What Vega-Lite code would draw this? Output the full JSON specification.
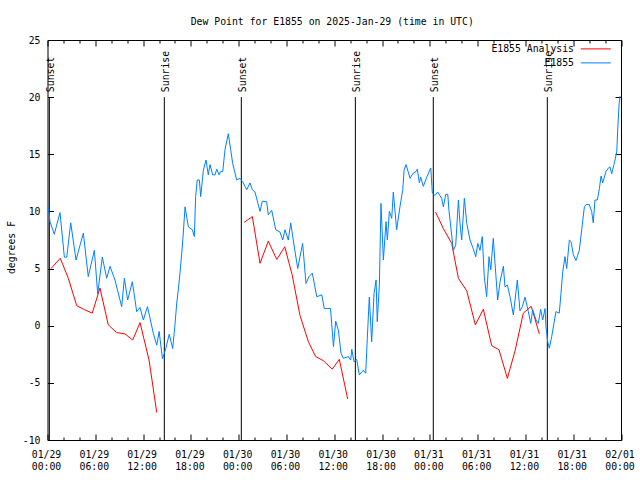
{
  "$schema": "https://vega.github.io/schema/vega-lite/v6.json",
  "width": 573.5,
  "height": 400,
  "autosize": {"type": "none"},
  "padding": {"left": 47.5, "top": 40, "right": 19, "bottom": 40},
  "title": {"text": "Dew Point for E1855 on 2025-Jan-29 (time in UTC)", "font": "DejaVu Sans Mono", "fontSize": 9.8, "fontWeight": "normal", "color": "black", "anchor": "middle", "baseline": "middle", "offset": 3.5, "dx": -2},
  "config": {
    "view": {"stroke": "black", "strokeWidth": 1},
    "font": "DejaVu Sans Mono",
    "axis": {"labelFont": "DejaVu Sans Mono", "labelFontSize": 9.8, "labelColor": "black", "tickColor": "black", "tickWidth": 1, "domain": false, "grid": false, "labelFlush": false, "labelOverlap": false, "titleFont": "DejaVu Sans Mono", "titleFontSize": 9.8, "titleFontWeight": "normal", "titleColor": "black"}
  },
  "datasets": {
    "sun": [
      {"t": "2025-01-29T00:14:00Z", "label": "Sunset"},
      {"t": "2025-01-29T14:40:00Z", "label": "Sunrise"},
      {"t": "2025-01-30T00:20:00Z", "label": "Sunset"},
      {"t": "2025-01-30T14:39:00Z", "label": "Sunrise"},
      {"t": "2025-01-31T00:26:00Z", "label": "Sunset"},
      {"t": "2025-01-31T14:45:00Z", "label": "Sunrise"}
    ],
    "obs": [
      {"t": "2025-01-29T00:26:00Z", "s": "E1855 Analysis", "g": "a1", "v": 5.0},
      {"t": "2025-01-29T01:36:00Z", "s": "E1855 Analysis", "g": "a1", "v": 5.9},
      {"t": "2025-01-29T02:37:00Z", "s": "E1855 Analysis", "g": "a1", "v": 4.15},
      {"t": "2025-01-29T03:40:00Z", "s": "E1855 Analysis", "g": "a1", "v": 1.75},
      {"t": "2025-01-29T04:39:00Z", "s": "E1855 Analysis", "g": "a1", "v": 1.4},
      {"t": "2025-01-29T05:37:00Z", "s": "E1855 Analysis", "g": "a1", "v": 1.1},
      {"t": "2025-01-29T06:35:00Z", "s": "E1855 Analysis", "g": "a1", "v": 3.3},
      {"t": "2025-01-29T07:38:00Z", "s": "E1855 Analysis", "g": "a1", "v": 0.07},
      {"t": "2025-01-29T08:41:00Z", "s": "E1855 Analysis", "g": "a1", "v": -0.6},
      {"t": "2025-01-29T09:44:00Z", "s": "E1855 Analysis", "g": "a1", "v": -0.72},
      {"t": "2025-01-29T10:42:00Z", "s": "E1855 Analysis", "g": "a1", "v": -1.25},
      {"t": "2025-01-29T11:37:00Z", "s": "E1855 Analysis", "g": "a1", "v": 0.27},
      {"t": "2025-01-29T12:45:00Z", "s": "E1855 Analysis", "g": "a1", "v": -3.0},
      {"t": "2025-01-29T13:43:00Z", "s": "E1855 Analysis", "g": "a1", "v": -7.6},
      {"t": "2025-01-30T00:42:00Z", "s": "E1855 Analysis", "g": "a2", "v": 9.05},
      {"t": "2025-01-30T01:43:00Z", "s": "E1855 Analysis", "g": "a2", "v": 9.55},
      {"t": "2025-01-30T02:41:00Z", "s": "E1855 Analysis", "g": "a2", "v": 5.46},
      {"t": "2025-01-30T03:43:00Z", "s": "E1855 Analysis", "g": "a2", "v": 7.4},
      {"t": "2025-01-30T04:47:00Z", "s": "E1855 Analysis", "g": "a2", "v": 5.8},
      {"t": "2025-01-30T05:47:00Z", "s": "E1855 Analysis", "g": "a2", "v": 6.9},
      {"t": "2025-01-30T06:42:00Z", "s": "E1855 Analysis", "g": "a2", "v": 4.5},
      {"t": "2025-01-30T07:42:00Z", "s": "E1855 Analysis", "g": "a2", "v": 0.9},
      {"t": "2025-01-30T08:45:00Z", "s": "E1855 Analysis", "g": "a2", "v": -1.4},
      {"t": "2025-01-30T09:40:00Z", "s": "E1855 Analysis", "g": "a2", "v": -2.7},
      {"t": "2025-01-30T10:38:00Z", "s": "E1855 Analysis", "g": "a2", "v": -3.06},
      {"t": "2025-01-30T11:45:00Z", "s": "E1855 Analysis", "g": "a2", "v": -3.8},
      {"t": "2025-01-30T12:38:00Z", "s": "E1855 Analysis", "g": "a2", "v": -2.94},
      {"t": "2025-01-30T13:41:00Z", "s": "E1855 Analysis", "g": "a2", "v": -6.4},
      {"t": "2025-01-31T00:43:00Z", "s": "E1855 Analysis", "g": "a3", "v": 9.95},
      {"t": "2025-01-31T01:42:00Z", "s": "E1855 Analysis", "g": "a3", "v": 8.5},
      {"t": "2025-01-31T02:45:00Z", "s": "E1855 Analysis", "g": "a3", "v": 7.2},
      {"t": "2025-01-31T03:35:00Z", "s": "E1855 Analysis", "g": "a3", "v": 4.15},
      {"t": "2025-01-31T04:38:00Z", "s": "E1855 Analysis", "g": "a3", "v": 3.05},
      {"t": "2025-01-31T05:43:00Z", "s": "E1855 Analysis", "g": "a3", "v": 0.07},
      {"t": "2025-01-31T06:43:00Z", "s": "E1855 Analysis", "g": "a3", "v": 1.44},
      {"t": "2025-01-31T07:46:00Z", "s": "E1855 Analysis", "g": "a3", "v": -1.75},
      {"t": "2025-01-31T08:41:00Z", "s": "E1855 Analysis", "g": "a3", "v": -2.1},
      {"t": "2025-01-31T09:44:00Z", "s": "E1855 Analysis", "g": "a3", "v": -4.6},
      {"t": "2025-01-31T10:42:00Z", "s": "E1855 Analysis", "g": "a3", "v": -2.2},
      {"t": "2025-01-31T11:44:00Z", "s": "E1855 Analysis", "g": "a3", "v": 1.1},
      {"t": "2025-01-31T12:44:00Z", "s": "E1855 Analysis", "g": "a3", "v": 1.7},
      {"t": "2025-01-31T13:45:00Z", "s": "E1855 Analysis", "g": "a3", "v": -0.72},
      {"t": "2025-01-29T00:06:00Z", "s": "E1855", "g": "o", "v": 10.4},
      {"t": "2025-01-29T00:19:00Z", "s": "E1855", "g": "o", "v": 9.1},
      {"t": "2025-01-29T00:51:00Z", "s": "E1855", "g": "o", "v": 8.0},
      {"t": "2025-01-29T01:34:00Z", "s": "E1855", "g": "o", "v": 9.9},
      {"t": "2025-01-29T02:07:00Z", "s": "E1855", "g": "o", "v": 6.0},
      {"t": "2025-01-29T02:25:00Z", "s": "E1855", "g": "o", "v": 6.0},
      {"t": "2025-01-29T02:55:00Z", "s": "E1855", "g": "o", "v": 9.0},
      {"t": "2025-01-29T03:35:00Z", "s": "E1855", "g": "o", "v": 5.75},
      {"t": "2025-01-29T04:30:00Z", "s": "E1855", "g": "o", "v": 8.1},
      {"t": "2025-01-29T05:07:00Z", "s": "E1855", "g": "o", "v": 4.3},
      {"t": "2025-01-29T05:53:00Z", "s": "E1855", "g": "o", "v": 6.6},
      {"t": "2025-01-29T06:18:00Z", "s": "E1855", "g": "o", "v": 2.8},
      {"t": "2025-01-29T06:53:00Z", "s": "E1855", "g": "o", "v": 6.0},
      {"t": "2025-01-29T07:26:00Z", "s": "E1855", "g": "o", "v": 4.15},
      {"t": "2025-01-29T07:51:00Z", "s": "E1855", "g": "o", "v": 5.2},
      {"t": "2025-01-29T08:28:00Z", "s": "E1855", "g": "o", "v": 4.0},
      {"t": "2025-01-29T09:19:00Z", "s": "E1855", "g": "o", "v": 1.67},
      {"t": "2025-01-29T09:39:00Z", "s": "E1855", "g": "o", "v": 4.15},
      {"t": "2025-01-29T10:04:00Z", "s": "E1855", "g": "o", "v": 2.25},
      {"t": "2025-01-29T10:39:00Z", "s": "E1855", "g": "o", "v": 3.85},
      {"t": "2025-01-29T11:12:00Z", "s": "E1855", "g": "o", "v": 1.23},
      {"t": "2025-01-29T11:37:00Z", "s": "E1855", "g": "o", "v": 1.6},
      {"t": "2025-01-29T12:02:00Z", "s": "E1855", "g": "o", "v": 0.5},
      {"t": "2025-01-29T12:33:00Z", "s": "E1855", "g": "o", "v": 1.67},
      {"t": "2025-01-29T13:17:00Z", "s": "E1855", "g": "o", "v": -0.66},
      {"t": "2025-01-29T13:43:00Z", "s": "E1855", "g": "o", "v": -1.7},
      {"t": "2025-01-29T14:01:00Z", "s": "E1855", "g": "o", "v": -0.5},
      {"t": "2025-01-29T14:26:00Z", "s": "E1855", "g": "o", "v": -2.9},
      {"t": "2025-01-29T14:49:00Z", "s": "E1855", "g": "o", "v": -2.1},
      {"t": "2025-01-29T15:17:00Z", "s": "E1855", "g": "o", "v": -0.75},
      {"t": "2025-01-29T15:43:00Z", "s": "E1855", "g": "o", "v": -2.0},
      {"t": "2025-01-29T16:00:00Z", "s": "E1855", "g": "o", "v": 0.07},
      {"t": "2025-01-29T16:13:00Z", "s": "E1855", "g": "o", "v": 1.9},
      {"t": "2025-01-29T16:33:00Z", "s": "E1855", "g": "o", "v": 4.0},
      {"t": "2025-01-29T16:51:00Z", "s": "E1855", "g": "o", "v": 6.3},
      {"t": "2025-01-29T17:03:00Z", "s": "E1855", "g": "o", "v": 8.1},
      {"t": "2025-01-29T17:16:00Z", "s": "E1855", "g": "o", "v": 10.4},
      {"t": "2025-01-29T17:29:00Z", "s": "E1855", "g": "o", "v": 9.5},
      {"t": "2025-01-29T17:41:00Z", "s": "E1855", "g": "o", "v": 8.65},
      {"t": "2025-01-29T18:11:00Z", "s": "E1855", "g": "o", "v": 8.4},
      {"t": "2025-01-29T18:26:00Z", "s": "E1855", "g": "o", "v": 7.8},
      {"t": "2025-01-29T18:36:00Z", "s": "E1855", "g": "o", "v": 11.3},
      {"t": "2025-01-29T18:48:00Z", "s": "E1855", "g": "o", "v": 12.75},
      {"t": "2025-01-29T19:04:00Z", "s": "E1855", "g": "o", "v": 12.75},
      {"t": "2025-01-29T19:14:00Z", "s": "E1855", "g": "o", "v": 11.3},
      {"t": "2025-01-29T19:34:00Z", "s": "E1855", "g": "o", "v": 13.6},
      {"t": "2025-01-29T19:54:00Z", "s": "E1855", "g": "o", "v": 14.5},
      {"t": "2025-01-29T20:11:00Z", "s": "E1855", "g": "o", "v": 13.2},
      {"t": "2025-01-29T20:24:00Z", "s": "E1855", "g": "o", "v": 14.1},
      {"t": "2025-01-29T20:44:00Z", "s": "E1855", "g": "o", "v": 13.2},
      {"t": "2025-01-29T21:02:00Z", "s": "E1855", "g": "o", "v": 13.2},
      {"t": "2025-01-29T21:15:00Z", "s": "E1855", "g": "o", "v": 13.7},
      {"t": "2025-01-29T21:32:00Z", "s": "E1855", "g": "o", "v": 13.2},
      {"t": "2025-01-29T21:45:00Z", "s": "E1855", "g": "o", "v": 13.5},
      {"t": "2025-01-29T22:00:00Z", "s": "E1855", "g": "o", "v": 13.5},
      {"t": "2025-01-29T22:17:00Z", "s": "E1855", "g": "o", "v": 15.4},
      {"t": "2025-01-29T22:42:00Z", "s": "E1855", "g": "o", "v": 16.8},
      {"t": "2025-01-29T23:00:00Z", "s": "E1855", "g": "o", "v": 15.4},
      {"t": "2025-01-29T23:15:00Z", "s": "E1855", "g": "o", "v": 14.2},
      {"t": "2025-01-29T23:45:00Z", "s": "E1855", "g": "o", "v": 12.75},
      {"t": "2025-01-30T00:10:00Z", "s": "E1855", "g": "o", "v": 12.9},
      {"t": "2025-01-30T00:30:00Z", "s": "E1855", "g": "o", "v": 12.6},
      {"t": "2025-01-30T00:48:00Z", "s": "E1855", "g": "o", "v": 12.2},
      {"t": "2025-01-30T01:01:00Z", "s": "E1855", "g": "o", "v": 11.9},
      {"t": "2025-01-30T01:25:00Z", "s": "E1855", "g": "o", "v": 12.5},
      {"t": "2025-01-30T01:43:00Z", "s": "E1855", "g": "o", "v": 11.9},
      {"t": "2025-01-30T02:03:00Z", "s": "E1855", "g": "o", "v": 11.7},
      {"t": "2025-01-30T02:41:00Z", "s": "E1855", "g": "o", "v": 10.0},
      {"t": "2025-01-30T02:58:00Z", "s": "E1855", "g": "o", "v": 10.9},
      {"t": "2025-01-30T03:31:00Z", "s": "E1855", "g": "o", "v": 10.85},
      {"t": "2025-01-30T03:43:00Z", "s": "E1855", "g": "o", "v": 9.7},
      {"t": "2025-01-30T04:09:00Z", "s": "E1855", "g": "o", "v": 10.1},
      {"t": "2025-01-30T04:39:00Z", "s": "E1855", "g": "o", "v": 8.4},
      {"t": "2025-01-30T05:11:00Z", "s": "E1855", "g": "o", "v": 8.2},
      {"t": "2025-01-30T05:32:00Z", "s": "E1855", "g": "o", "v": 7.5},
      {"t": "2025-01-30T05:49:00Z", "s": "E1855", "g": "o", "v": 8.4},
      {"t": "2025-01-30T06:14:00Z", "s": "E1855", "g": "o", "v": 7.5},
      {"t": "2025-01-30T06:32:00Z", "s": "E1855", "g": "o", "v": 9.0},
      {"t": "2025-01-30T06:59:00Z", "s": "E1855", "g": "o", "v": 6.9},
      {"t": "2025-01-30T07:25:00Z", "s": "E1855", "g": "o", "v": 5.0},
      {"t": "2025-01-30T07:42:00Z", "s": "E1855", "g": "o", "v": 6.04},
      {"t": "2025-01-30T08:02:00Z", "s": "E1855", "g": "o", "v": 7.2},
      {"t": "2025-01-30T08:27:00Z", "s": "E1855", "g": "o", "v": 3.7},
      {"t": "2025-01-30T08:50:00Z", "s": "E1855", "g": "o", "v": 4.3},
      {"t": "2025-01-30T09:15:00Z", "s": "E1855", "g": "o", "v": 4.6},
      {"t": "2025-01-30T09:48:00Z", "s": "E1855", "g": "o", "v": 2.54},
      {"t": "2025-01-30T10:26:00Z", "s": "E1855", "g": "o", "v": 2.7},
      {"t": "2025-01-30T10:45:00Z", "s": "E1855", "g": "o", "v": 1.5},
      {"t": "2025-01-30T11:32:00Z", "s": "E1855", "g": "o", "v": 1.5},
      {"t": "2025-01-30T11:54:00Z", "s": "E1855", "g": "o", "v": -1.83},
      {"t": "2025-01-30T12:11:00Z", "s": "E1855", "g": "o", "v": 0.4},
      {"t": "2025-01-30T12:31:00Z", "s": "E1855", "g": "o", "v": -0.4},
      {"t": "2025-01-30T12:51:00Z", "s": "E1855", "g": "o", "v": -2.4},
      {"t": "2025-01-30T13:08:00Z", "s": "E1855", "g": "o", "v": -2.85},
      {"t": "2025-01-30T13:46:00Z", "s": "E1855", "g": "o", "v": -2.7},
      {"t": "2025-01-30T14:04:00Z", "s": "E1855", "g": "o", "v": -3.0},
      {"t": "2025-01-30T14:12:00Z", "s": "E1855", "g": "o", "v": -2.06},
      {"t": "2025-01-30T14:29:00Z", "s": "E1855", "g": "o", "v": -3.15},
      {"t": "2025-01-30T14:49:00Z", "s": "E1855", "g": "o", "v": -2.94},
      {"t": "2025-01-30T15:09:00Z", "s": "E1855", "g": "o", "v": -4.3},
      {"t": "2025-01-30T15:39:00Z", "s": "E1855", "g": "o", "v": -3.9},
      {"t": "2025-01-30T15:57:00Z", "s": "E1855", "g": "o", "v": -4.16},
      {"t": "2025-01-30T16:09:00Z", "s": "E1855", "g": "o", "v": -1.1},
      {"t": "2025-01-30T16:24:00Z", "s": "E1855", "g": "o", "v": 2.5},
      {"t": "2025-01-30T16:42:00Z", "s": "E1855", "g": "o", "v": -1.4},
      {"t": "2025-01-30T17:00:00Z", "s": "E1855", "g": "o", "v": 2.84},
      {"t": "2025-01-30T17:15:00Z", "s": "E1855", "g": "o", "v": 4.0},
      {"t": "2025-01-30T17:24:00Z", "s": "E1855", "g": "o", "v": 0.35},
      {"t": "2025-01-30T17:40:00Z", "s": "E1855", "g": "o", "v": 3.6},
      {"t": "2025-01-30T17:52:00Z", "s": "E1855", "g": "o", "v": 10.7},
      {"t": "2025-01-30T18:10:00Z", "s": "E1855", "g": "o", "v": 5.75},
      {"t": "2025-01-30T18:30:00Z", "s": "E1855", "g": "o", "v": 9.1},
      {"t": "2025-01-30T18:40:00Z", "s": "E1855", "g": "o", "v": 7.5},
      {"t": "2025-01-30T18:55:00Z", "s": "E1855", "g": "o", "v": 10.0},
      {"t": "2025-01-30T19:13:00Z", "s": "E1855", "g": "o", "v": 9.4},
      {"t": "2025-01-30T19:25:00Z", "s": "E1855", "g": "o", "v": 11.7},
      {"t": "2025-01-30T19:50:00Z", "s": "E1855", "g": "o", "v": 8.4},
      {"t": "2025-01-30T20:15:00Z", "s": "E1855", "g": "o", "v": 10.4},
      {"t": "2025-01-30T20:36:00Z", "s": "E1855", "g": "o", "v": 11.9},
      {"t": "2025-01-30T20:46:00Z", "s": "E1855", "g": "o", "v": 13.6},
      {"t": "2025-01-30T21:01:00Z", "s": "E1855", "g": "o", "v": 14.1},
      {"t": "2025-01-30T21:31:00Z", "s": "E1855", "g": "o", "v": 12.9},
      {"t": "2025-01-30T21:51:00Z", "s": "E1855", "g": "o", "v": 13.3},
      {"t": "2025-01-30T22:16:00Z", "s": "E1855", "g": "o", "v": 13.5},
      {"t": "2025-01-30T22:26:00Z", "s": "E1855", "g": "o", "v": 13.7},
      {"t": "2025-01-30T22:41:00Z", "s": "E1855", "g": "o", "v": 12.5},
      {"t": "2025-01-30T22:51:00Z", "s": "E1855", "g": "o", "v": 13.0},
      {"t": "2025-01-30T23:11:00Z", "s": "E1855", "g": "o", "v": 12.2},
      {"t": "2025-01-30T23:37:00Z", "s": "E1855", "g": "o", "v": 13.0},
      {"t": "2025-01-31T00:07:00Z", "s": "E1855", "g": "o", "v": 13.8},
      {"t": "2025-01-31T00:19:00Z", "s": "E1855", "g": "o", "v": 11.6},
      {"t": "2025-01-31T00:39:00Z", "s": "E1855", "g": "o", "v": 11.4},
      {"t": "2025-01-31T00:59:00Z", "s": "E1855", "g": "o", "v": 11.7},
      {"t": "2025-01-31T01:29:00Z", "s": "E1855", "g": "o", "v": 11.15},
      {"t": "2025-01-31T01:42:00Z", "s": "E1855", "g": "o", "v": 10.4},
      {"t": "2025-01-31T02:00:00Z", "s": "E1855", "g": "o", "v": 11.5},
      {"t": "2025-01-31T02:15:00Z", "s": "E1855", "g": "o", "v": 11.5},
      {"t": "2025-01-31T02:24:00Z", "s": "E1855", "g": "o", "v": 10.1},
      {"t": "2025-01-31T02:40:00Z", "s": "E1855", "g": "o", "v": 8.4},
      {"t": "2025-01-31T02:57:00Z", "s": "E1855", "g": "o", "v": 6.6},
      {"t": "2025-01-31T03:15:00Z", "s": "E1855", "g": "o", "v": 7.05},
      {"t": "2025-01-31T03:35:00Z", "s": "E1855", "g": "o", "v": 11.0},
      {"t": "2025-01-31T03:47:00Z", "s": "E1855", "g": "o", "v": 8.96},
      {"t": "2025-01-31T04:00:00Z", "s": "E1855", "g": "o", "v": 7.5},
      {"t": "2025-01-31T04:20:00Z", "s": "E1855", "g": "o", "v": 11.15},
      {"t": "2025-01-31T04:38:00Z", "s": "E1855", "g": "o", "v": 8.96},
      {"t": "2025-01-31T05:03:00Z", "s": "E1855", "g": "o", "v": 7.5},
      {"t": "2025-01-31T05:28:00Z", "s": "E1855", "g": "o", "v": 6.7},
      {"t": "2025-01-31T05:46:00Z", "s": "E1855", "g": "o", "v": 6.04},
      {"t": "2025-01-31T06:01:00Z", "s": "E1855", "g": "o", "v": 7.2},
      {"t": "2025-01-31T06:18:00Z", "s": "E1855", "g": "o", "v": 6.6},
      {"t": "2025-01-31T06:35:00Z", "s": "E1855", "g": "o", "v": 7.8},
      {"t": "2025-01-31T06:50:00Z", "s": "E1855", "g": "o", "v": 4.3},
      {"t": "2025-01-31T07:08:00Z", "s": "E1855", "g": "o", "v": 2.54},
      {"t": "2025-01-31T07:26:00Z", "s": "E1855", "g": "o", "v": 6.04},
      {"t": "2025-01-31T07:39:00Z", "s": "E1855", "g": "o", "v": 4.9},
      {"t": "2025-01-31T07:58:00Z", "s": "E1855", "g": "o", "v": 7.65},
      {"t": "2025-01-31T08:11:00Z", "s": "E1855", "g": "o", "v": 5.46},
      {"t": "2025-01-31T08:31:00Z", "s": "E1855", "g": "o", "v": 2.25},
      {"t": "2025-01-31T08:49:00Z", "s": "E1855", "g": "o", "v": 3.85},
      {"t": "2025-01-31T09:14:00Z", "s": "E1855", "g": "o", "v": 5.2},
      {"t": "2025-01-31T09:26:00Z", "s": "E1855", "g": "o", "v": 3.4},
      {"t": "2025-01-31T09:44:00Z", "s": "E1855", "g": "o", "v": 3.56},
      {"t": "2025-01-31T10:04:00Z", "s": "E1855", "g": "o", "v": 2.54},
      {"t": "2025-01-31T10:29:00Z", "s": "E1855", "g": "o", "v": 0.94},
      {"t": "2025-01-31T10:59:00Z", "s": "E1855", "g": "o", "v": 4.0},
      {"t": "2025-01-31T11:19:00Z", "s": "E1855", "g": "o", "v": 1.3},
      {"t": "2025-01-31T11:37:00Z", "s": "E1855", "g": "o", "v": 1.67},
      {"t": "2025-01-31T11:57:00Z", "s": "E1855", "g": "o", "v": 2.5},
      {"t": "2025-01-31T12:14:00Z", "s": "E1855", "g": "o", "v": 1.67},
      {"t": "2025-01-31T12:22:00Z", "s": "E1855", "g": "o", "v": 1.23},
      {"t": "2025-01-31T12:40:00Z", "s": "E1855", "g": "o", "v": 0.2},
      {"t": "2025-01-31T12:55:00Z", "s": "E1855", "g": "o", "v": 1.4},
      {"t": "2025-01-31T13:20:00Z", "s": "E1855", "g": "o", "v": 0.5},
      {"t": "2025-01-31T13:37:00Z", "s": "E1855", "g": "o", "v": 0.2},
      {"t": "2025-01-31T13:55:00Z", "s": "E1855", "g": "o", "v": 1.44},
      {"t": "2025-01-31T14:10:00Z", "s": "E1855", "g": "o", "v": 0.5},
      {"t": "2025-01-31T14:28:00Z", "s": "E1855", "g": "o", "v": 1.5},
      {"t": "2025-01-31T14:35:00Z", "s": "E1855", "g": "o", "v": -0.1},
      {"t": "2025-01-31T14:48:00Z", "s": "E1855", "g": "o", "v": -1.4},
      {"t": "2025-01-31T15:00:00Z", "s": "E1855", "g": "o", "v": -1.97},
      {"t": "2025-01-31T15:18:00Z", "s": "E1855", "g": "o", "v": -0.96},
      {"t": "2025-01-31T15:35:00Z", "s": "E1855", "g": "o", "v": 0.2},
      {"t": "2025-01-31T15:50:00Z", "s": "E1855", "g": "o", "v": 1.23},
      {"t": "2025-01-31T16:15:00Z", "s": "E1855", "g": "o", "v": 1.1},
      {"t": "2025-01-31T16:28:00Z", "s": "E1855", "g": "o", "v": 2.84},
      {"t": "2025-01-31T16:41:00Z", "s": "E1855", "g": "o", "v": 4.73},
      {"t": "2025-01-31T16:58:00Z", "s": "E1855", "g": "o", "v": 6.04},
      {"t": "2025-01-31T17:11:00Z", "s": "E1855", "g": "o", "v": 5.0},
      {"t": "2025-01-31T17:31:00Z", "s": "E1855", "g": "o", "v": 7.5},
      {"t": "2025-01-31T17:44:00Z", "s": "E1855", "g": "o", "v": 7.35},
      {"t": "2025-01-31T18:01:00Z", "s": "E1855", "g": "o", "v": 6.2},
      {"t": "2025-01-31T18:21:00Z", "s": "E1855", "g": "o", "v": 5.7},
      {"t": "2025-01-31T18:46:00Z", "s": "E1855", "g": "o", "v": 6.6},
      {"t": "2025-01-31T19:04:00Z", "s": "E1855", "g": "o", "v": 8.4},
      {"t": "2025-01-31T19:24:00Z", "s": "E1855", "g": "o", "v": 10.4},
      {"t": "2025-01-31T19:37:00Z", "s": "E1855", "g": "o", "v": 10.6},
      {"t": "2025-01-31T20:01:00Z", "s": "E1855", "g": "o", "v": 10.6},
      {"t": "2025-01-31T20:19:00Z", "s": "E1855", "g": "o", "v": 10.0},
      {"t": "2025-01-31T20:31:00Z", "s": "E1855", "g": "o", "v": 9.0},
      {"t": "2025-01-31T20:44:00Z", "s": "E1855", "g": "o", "v": 11.0},
      {"t": "2025-01-31T21:02:00Z", "s": "E1855", "g": "o", "v": 11.0},
      {"t": "2025-01-31T21:17:00Z", "s": "E1855", "g": "o", "v": 12.0},
      {"t": "2025-01-31T21:30:00Z", "s": "E1855", "g": "o", "v": 13.1},
      {"t": "2025-01-31T21:42:00Z", "s": "E1855", "g": "o", "v": 12.5},
      {"t": "2025-01-31T22:07:00Z", "s": "E1855", "g": "o", "v": 13.5},
      {"t": "2025-01-31T22:25:00Z", "s": "E1855", "g": "o", "v": 13.8},
      {"t": "2025-01-31T22:37:00Z", "s": "E1855", "g": "o", "v": 13.9},
      {"t": "2025-01-31T22:50:00Z", "s": "E1855", "g": "o", "v": 13.3},
      {"t": "2025-01-31T23:07:00Z", "s": "E1855", "g": "o", "v": 14.1},
      {"t": "2025-01-31T23:28:00Z", "s": "E1855", "g": "o", "v": 15.2},
      {"t": "2025-01-31T23:35:00Z", "s": "E1855", "g": "o", "v": 17.1},
      {"t": "2025-01-31T23:45:00Z", "s": "E1855", "g": "o", "v": 19.3},
      {"t": "2025-01-31T23:53:00Z", "s": "E1855", "g": "o", "v": 20.1}
    ]
  },
  "resolve": {"axis": {"x": "independent", "y": "independent"}},
  "layer": [
    {
      "layer": [
        {
          "data": {"name": "sun"},
          "mark": {"type": "rule", "color": "black", "strokeWidth": 1},
          "encoding": {
            "x": {"field": "t", "type": "temporal", "scale": {"type": "utc", "domain": [1738108800000, 1738368000000]},
              "axis": {"orient": "bottom", "title": null, "tickCount": 100,
                "values": [1738108800000, 1738116000000, 1738123200000, 1738130400000, 1738137600000, 1738144800000, 1738152000000, 1738159200000, 1738166400000, 1738173600000, 1738180800000, 1738188000000, 1738195200000, 1738202400000, 1738209600000, 1738216800000, 1738224000000, 1738231200000, 1738238400000, 1738245600000, 1738252800000, 1738260000000, 1738267200000, 1738274400000, 1738281600000, 1738288800000, 1738296000000, 1738303200000, 1738310400000, 1738317600000, 1738324800000, 1738332000000, 1738339200000, 1738346400000, 1738353600000, 1738360800000, 1738368000000],
                "tickSize": {"condition": {"test": "(datum.value - 1738108800000) % 21600000 == 0", "value": -6}, "value": -3},
                "labelPadding": 15, "labelBaseline": "top", "labelLineHeight": 12.7, "labelOffset": -1.5,
                "labelExpr": "(datum.value - 1738108800000) % 21600000 == 0 ? [utcFormat(datum.value, '%m/%d'), utcFormat(datum.value, '%H:%M')] : ''"}},
            "y": {"datum": 20, "type": "quantitative", "scale": {"domain": [-10, 25], "nice": false},
              "axis": {"orient": "left", "values": [-10, -5, 0, 5, 10, 15, 20, 25], "tickSize": -6, "labelPadding": 13.5, "labelExpr": "'' + datum.value", "title": "degrees F", "titleAngle": 270, "titleX": -36.5, "titleY": 207, "titleAlign": "center", "titleBaseline": "middle"}},
            "y2": {"datum": -10}
          }
        },
        {
          "data": {"name": "sun"},
          "mark": {"type": "text", "angle": 270, "align": "left", "baseline": "middle", "dx": 5, "dy": 1.5, "font": "DejaVu Sans Mono", "fontSize": 9.8, "color": "black"},
          "encoding": {
            "x": {"field": "t", "type": "temporal"},
            "y": {"datum": 20, "type": "quantitative"},
            "text": {"field": "label"}
          }
        },
        {
          "data": {"name": "obs"},
          "mark": {"type": "line", "strokeWidth": 1, "interpolate": "linear"},
          "encoding": {
            "x": {"field": "t", "type": "temporal"},
            "y": {"field": "v", "type": "quantitative"},
            "color": {"field": "s", "type": "nominal", "scale": {"domain": ["E1855 Analysis", "E1855"], "range": ["#ff0000", "#0080ff"]},
              "legend": {"orient": "none", "legendX": 543.4, "legendY": 4, "title": null, "symbolType": "M-5,0H5", "symbolSize": 36, "symbolStrokeWidth": 1, "labelAlign": "right", "labelOffset": -26.7, "labelFont": "DejaVu Sans Mono", "labelFontSize": 9.8, "labelColor": "black", "padding": 0, "rowPadding": 3, "symbolOffset": 0}},
            "detail": {"field": "g"}
          }
        }
      ]
    },
    {
      "data": {"name": "sun"},
      "mark": {"type": "point", "opacity": 0},
      "encoding": {
        "x": {"field": "t", "type": "temporal",
          "axis": {"orient": "top", "title": null, "labels": false, "tickCount": 100,
            "values": [1738108800000, 1738116000000, 1738123200000, 1738130400000, 1738137600000, 1738144800000, 1738152000000, 1738159200000, 1738166400000, 1738173600000, 1738180800000, 1738188000000, 1738195200000, 1738202400000, 1738209600000, 1738216800000, 1738224000000, 1738231200000, 1738238400000, 1738245600000, 1738252800000, 1738260000000, 1738267200000, 1738274400000, 1738281600000, 1738288800000, 1738296000000, 1738303200000, 1738310400000, 1738317600000, 1738324800000, 1738332000000, 1738339200000, 1738346400000, 1738353600000, 1738360800000, 1738368000000],
            "tickSize": {"condition": {"test": "(datum.value - 1738108800000) % 21600000 == 0", "value": -6}, "value": -3}}},
        "y": {"datum": 0, "type": "quantitative",
          "axis": {"orient": "right", "title": null, "labels": false, "values": [-10, -5, 0, 5, 10, 15, 20, 25], "tickSize": -6}}
      }
    }
  ]
}
